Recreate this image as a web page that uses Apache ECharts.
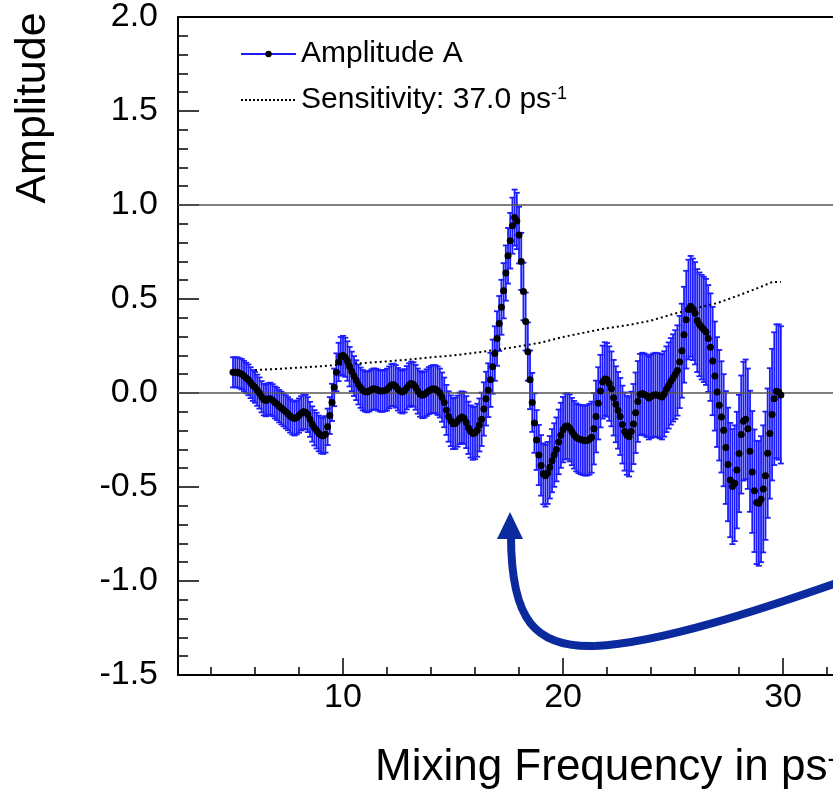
<!doctype html>
<html>
	<head>
		<meta charset="utf-8">
		<title>Amplitude scan</title>
		<script src="https://cdn.jsdelivr.net/npm/echarts@6/dist/echarts.min.js"></script>
		<style>
			html, body { margin: 0; padding: 0; background: #fff; }
			#chart { width: 833px; height: 793px; }
		</style>
	</head>
	<body>
		<div id="chart"></div>
		<script type="text/javascript">
		// amplitude per 0.1 ps^-1, one row per unit, starting at 5.0
		var amp5  = [0.11, 0.11, 0.11, 0.105, 0.10, 0.09, 0.08, 0.07, 0.055, 0.04];
		var amp6  = [0.03, 0.015, 0, -0.02, -0.035, -0.04, -0.032, -0.03, -0.038, -0.05];
		var amp7  = [-0.058, -0.07, -0.08, -0.09, -0.10, -0.11, -0.122, -0.132, -0.136, -0.13];
		var amp8  = [-0.12, -0.108, -0.10, -0.102, -0.115, -0.14, -0.165, -0.185, -0.20, -0.215];
		var amp9  = [-0.225, -0.228, -0.22, -0.18, -0.12, -0.05, 0.03, 0.11, 0.165, 0.195];
		var amp10 = [0.20, 0.19, 0.17, 0.14, 0.115, 0.09, 0.068, 0.045, 0.028, 0.015];
		var amp11 = [0.008, 0.005, 0.01, 0.018, 0.022, 0.02, 0.015, 0.01, 0.01, 0.013];
		var amp12 = [0.018, 0.03, 0.042, 0.044, 0.035, 0.02, 0.01, 0.005, 0.012, 0.028];
		var amp13 = [0.042, 0.05, 0.045, 0.03, 0.01, -0.005, -0.012, -0.008, 0.002, 0.012];
		var amp14 = [0.018, 0.022, 0.02, 0.012, 0, -0.022, -0.05, -0.09, -0.125, -0.148];
		var amp15 = [-0.163, -0.162, -0.15, -0.135, -0.128, -0.133, -0.155, -0.185, -0.205, -0.215];
		var amp16 = [-0.212, -0.198, -0.17, -0.14, -0.085, -0.03, 0.015, 0.07, 0.14, 0.21];
		var amp17 = [0.29, 0.37, 0.456, 0.544, 0.638, 0.73, 0.81, 0.89, 0.933, 0.915];
		var amp18 = [0.84, 0.70, 0.54, 0.38, 0.22, 0.07, -0.05, -0.16, -0.25, -0.33];
		var amp19 = [-0.385, -0.43, -0.44, -0.425, -0.395, -0.36, -0.33, -0.30, -0.26, -0.225];
		var amp20 = [-0.195, -0.178, -0.176, -0.186, -0.205, -0.222, -0.236, -0.244, -0.248, -0.251];
		var amp21 = [-0.253, -0.252, -0.246, -0.235, -0.19, -0.125, -0.055, 0.01, 0.058, 0.075];
		var amp22 = [0.07, 0.05, 0.022, -0.025, -0.06, -0.092, -0.125, -0.168, -0.205, -0.225];
		var amp23 = [-0.233, -0.205, -0.165, -0.105, -0.045, -0.008, -0.003, -0.008, -0.015, -0.027];
		var amp24 = [-0.018, -0.012, -0.009, -0.012, -0.016, -0.021, -0.005, 0.02, 0.04, 0.062];
		var amp25 = [0.08, 0.098, 0.12, 0.165, 0.225, 0.31, 0.39, 0.444, 0.461, 0.445];
		var amp26 = [0.424, 0.385, 0.365, 0.35, 0.338, 0.325, 0.29, 0.244, 0.17, 0.09];
		var amp27 = [0.005, -0.065, -0.127, -0.198, -0.29, -0.38, -0.463, -0.498, -0.48, -0.41];
		var amp28 = [-0.322, -0.221, -0.15, -0.14, -0.19, -0.31, -0.42, -0.52, -0.582, -0.587];
		var amp29 = [-0.565, -0.51, -0.44, -0.32, -0.215, -0.115, -0.03, 0.009, 0.005, -0.01];

		// error (1 sigma) on the amplitude, same grid
		var err5  = [0.080, 0.080, 0.080, 0.080, 0.081, 0.081, 0.081, 0.082, 0.082, 0.082];
		var err6  = [0.082, 0.083, 0.083, 0.083, 0.084, 0.084, 0.084, 0.085, 0.085, 0.085];
		var err7  = [0.086, 0.086, 0.087, 0.087, 0.088, 0.088, 0.089, 0.089, 0.090, 0.090];
		var err8  = [0.091, 0.091, 0.092, 0.092, 0.093, 0.093, 0.094, 0.094, 0.095, 0.095];
		var err9  = [0.096, 0.096, 0.097, 0.097, 0.098, 0.099, 0.100, 0.101, 0.102, 0.103];
		var err10 = [0.104, 0.104, 0.105, 0.105, 0.105, 0.106, 0.106, 0.106, 0.107, 0.107];
		var err11 = [0.107, 0.108, 0.108, 0.108, 0.109, 0.109, 0.109, 0.110, 0.110, 0.110];
		var err12 = [0.111, 0.111, 0.112, 0.112, 0.113, 0.113, 0.114, 0.114, 0.115, 0.115];
		var err13 = [0.116, 0.117, 0.118, 0.119, 0.120, 0.121, 0.122, 0.123, 0.124, 0.125];
		var err14 = [0.126, 0.127, 0.128, 0.129, 0.130, 0.131, 0.132, 0.133, 0.134, 0.135];
		var err15 = [0.135, 0.136, 0.136, 0.137, 0.137, 0.138, 0.138, 0.139, 0.139, 0.140];
		var err16 = [0.140, 0.141, 0.141, 0.142, 0.142, 0.143, 0.143, 0.144, 0.144, 0.145];
		var err17 = [0.145, 0.146, 0.146, 0.147, 0.147, 0.148, 0.148, 0.149, 0.149, 0.150];
		var err18 = [0.151, 0.152, 0.153, 0.154, 0.155, 0.156, 0.157, 0.158, 0.159, 0.160];
		var err19 = [0.161, 0.162, 0.164, 0.165, 0.166, 0.168, 0.169, 0.170, 0.172, 0.173];
		var err20 = [0.174, 0.175, 0.176, 0.178, 0.179, 0.180, 0.181, 0.182, 0.184, 0.185];
		var err21 = [0.186, 0.187, 0.188, 0.189, 0.190, 0.191, 0.192, 0.193, 0.194, 0.195];
		var err22 = [0.196, 0.198, 0.199, 0.201, 0.202, 0.204, 0.205, 0.207, 0.208, 0.210];
		var err23 = [0.211, 0.212, 0.213, 0.214, 0.215, 0.216, 0.217, 0.218, 0.219, 0.220];
		var err24 = [0.221, 0.222, 0.223, 0.224, 0.225, 0.226, 0.227, 0.228, 0.229, 0.230];
		var err25 = [0.232, 0.236, 0.240, 0.245, 0.250, 0.255, 0.260, 0.265, 0.268, 0.270];
		var err26 = [0.272, 0.274, 0.276, 0.278, 0.280, 0.282, 0.284, 0.286, 0.288, 0.290];
		var err27 = [0.292, 0.294, 0.296, 0.298, 0.300, 0.302, 0.304, 0.306, 0.308, 0.310];
		var err28 = [0.312, 0.314, 0.316, 0.318, 0.320, 0.322, 0.324, 0.326, 0.328, 0.332];
		var err29 = [0.335, 0.338, 0.341, 0.344, 0.347, 0.350, 0.353, 0.356, 0.360, 0.365];

		// sensitivity curve (dotted)
		var sensFreq = [6, 7, 8, 9, 10, 11, 12, 13, 14, 15, 16, 17, 18, 19, 20, 21, 22, 23, 24, 25, 26, 27, 28, 29, 29.5, 29.9];
		var sensVals = [0.122, 0.128, 0.135, 0.142, 0.152, 0.16, 0.168, 0.178, 0.19, 0.2, 0.214, 0.23, 0.248, 0.268, 0.298, 0.322, 0.345, 0.362, 0.385, 0.42, 0.45, 0.478, 0.52, 0.565, 0.59, 0.59];

		var xMajor = [10, 20, 30];
		var xMinor = [4, 6, 8, 12, 14, 16, 18, 22, 24, 26, 28, 32];

		var ampVals = [].concat(amp5, amp6, amp7, amp8, amp9, amp10, amp11, amp12, amp13, amp14, amp15, amp16, amp17,
			amp18, amp19, amp20, amp21, amp22, amp23, amp24, amp25, amp26, amp27, amp28, amp29);
		var errVals = [].concat(err5, err6, err7, err8, err9, err10, err11, err12, err13, err14, err15, err16, err17,
			err18, err19, err20, err21, err22, err23, err24, err25, err26, err27, err28, err29);

		var ampData = [], errData = [], sensData = [];
		for (var i = 0; i < ampVals.length; i++) {
			var f = +(5 + i * 0.1).toFixed(1);
			ampData.push([f, ampVals[i]]);
			errData.push([f, ampVals[i], errVals[i]]);
		}
		for (var j = 0; j < sensFreq.length; j++) {
			sensData.push([sensFreq[j], sensVals[j]]);
		}

		var FONT = '"Liberation Sans", Arial, Helvetica, sans-serif';
		var BLUE = '#1c1cff';
		var ARROW = '#0a2a9e';
		var XMIN = 2.5, XMAX = 32.27;

		var option = {
			animation: false,
			backgroundColor: '#fff',
			grid: { left: 178, right: 0, top: 14, bottom: 118, containLabel: false },
			legend: {
				orient: 'vertical',
				left: 235,
				top: 34,
				itemWidth: 55,
				itemHeight: 8,
				itemGap: 16,
				textStyle: {
					fontFamily: FONT, fontSize: 30, color: '#000',
					rich: { sup: { fontFamily: FONT, fontSize: 18, verticalAlign: 'top', color: '#000' } }
				},
				formatter: function (name) {
					return name === 'Sensitivity' ? 'Sensitivity: 37.0 ps{sup|-1}' : name;
				},
				data: [
					{ name: 'Amplitude A', lineStyle: { color: BLUE, width: 2, opacity: 1 }, itemStyle: { color: '#000' } },
					{ name: 'Sensitivity', itemStyle: { opacity: 0 }, lineStyle: { color: '#000', width: 2, type: [2, 2] } }
				]
			},
			xAxis: [{
				type: 'value', min: XMIN, max: XMAX, position: 'bottom',
				axisLine: { onZero: false, lineStyle: { color: '#000', width: 2 } },
				axisTick: { inside: true, length: 17, customValues: xMajor, lineStyle: { color: '#000', width: 1.5 } },
				axisLabel: { customValues: xMajor, fontFamily: FONT, fontSize: 34, color: '#000', margin: 6 },
				splitLine: { show: false }
			}, {
				type: 'value', min: XMIN, max: XMAX, position: 'bottom', gridIndex: 0,
				axisLine: { show: false, onZero: false },
				axisTick: { inside: true, length: 8, customValues: xMinor, lineStyle: { color: '#000', width: 1.5 } },
				axisLabel: { show: false },
				splitLine: { show: false }
			}, {
				type: 'value', min: XMIN, max: XMAX, position: 'top', gridIndex: 0,
				axisLine: { onZero: false, lineStyle: { color: '#000', width: 2 } },
				axisTick: { show: false },
				axisLabel: { show: false },
				splitLine: { show: false }
			}],
			yAxis: {
				type: 'value', min: -1.5, max: 2.0, interval: 0.5,
				axisLine: { show: true, onZero: false, lineStyle: { color: '#000', width: 2 } },
				axisTick: { inside: true, length: 21, lineStyle: { color: '#000', width: 1.5 } },
				minorTick: { show: true, splitNumber: 5, length: 10, lineStyle: { color: '#000', width: 1.5 } },
				axisLabel: {
					fontFamily: FONT, fontSize: 34, color: '#000', margin: 20, padding: [14, 0, 0, 0],
					formatter: function (v) { return v.toFixed(1); }
				},
				splitLine: { show: false }
			},
			graphic: [{
				type: 'text', x: 33, y: 108, rotation: Math.PI / 2,
				style: { text: 'Amplitude', font: '43px ' + FONT, fill: '#000', textAlign: 'center', textVerticalAlign: 'middle' }
			}, {
				type: 'text', x: 375, y: 746,
				style: {
					text: 'Mixing Frequency in ps{sup|-1}', fill: '#000', textAlign: 'left', textVerticalAlign: 'top',
					fontFamily: FONT, fontSize: 44,
					rich: { sup: { fontFamily: FONT, fontSize: 27, verticalAlign: 'top' } }
				}
			}, {
				// annotation arrow
				type: 'bezierCurve', z: 100,
				shape: { x1: 511, y1: 536, cpx1: 511, cpy1: 620, cpx2: 535, cpy2: 648, x2: 595, y2: 646 },
				style: { fill: null, stroke: ARROW, lineWidth: 8 }
			}, {
				type: 'bezierCurve', z: 100,
				shape: { x1: 595, y1: 646, cpx1: 660, cpy1: 643, cpx2: 760, cpy2: 610, x2: 845, y2: 580 },
				style: { fill: null, stroke: ARROW, lineWidth: 8 }
			}, {
				type: 'polygon', z: 100,
				shape: { points: [[510, 512], [497, 539], [523, 539]] },
				style: { fill: ARROW }
			}],
			series: [{
				name: 'errors',
				type: 'custom',
				z: 2,
				data: errData,
				renderItem: function (params, api) {
					var x = api.value(0), y = api.value(1), e = api.value(2);
					var top = api.coord([x, y + e]);
					var bot = api.coord([x, y - e]);
					var hw = 3;
					var st = { stroke: BLUE, lineWidth: 1.8 };
					return {
						type: 'group',
						children: [
							{ type: 'line', shape: { x1: top[0], y1: top[1], x2: bot[0], y2: bot[1] }, style: st },
							{ type: 'line', shape: { x1: top[0] - hw, y1: top[1], x2: top[0] + hw, y2: top[1] }, style: st },
							{ type: 'line', shape: { x1: bot[0] - hw, y1: bot[1], x2: bot[0] + hw, y2: bot[1] }, style: st }
						]
					};
				}
			}, {
				name: 'ref',
				type: 'line',
				z: 3,
				data: [],
				markLine: {
					silent: true, symbol: 'none', label: { show: false },
					lineStyle: { color: '#555', width: 1.5, type: 'solid' },
					data: [{ yAxis: 0 }, { yAxis: 1 }]
				}
			}, {
				name: 'Sensitivity',
				type: 'line',
				z: 4,
				data: sensData,
				showSymbol: false,
				symbol: 'none',
				lineStyle: { color: '#000', width: 2, type: [2, 3] },
				itemStyle: { color: '#000' }
			}, {
				name: 'Amplitude A',
				type: 'line',
				z: 5,
				data: ampData,
				symbol: 'circle',
				symbolSize: 7,
				showSymbol: true,
				itemStyle: { color: '#000' },
				lineStyle: { width: 0, opacity: 0 }
			}]
		};

		var myChart = echarts.init(document.getElementById('chart'));
		myChart.setOption(option);
		</script>
	</body>
</html>
